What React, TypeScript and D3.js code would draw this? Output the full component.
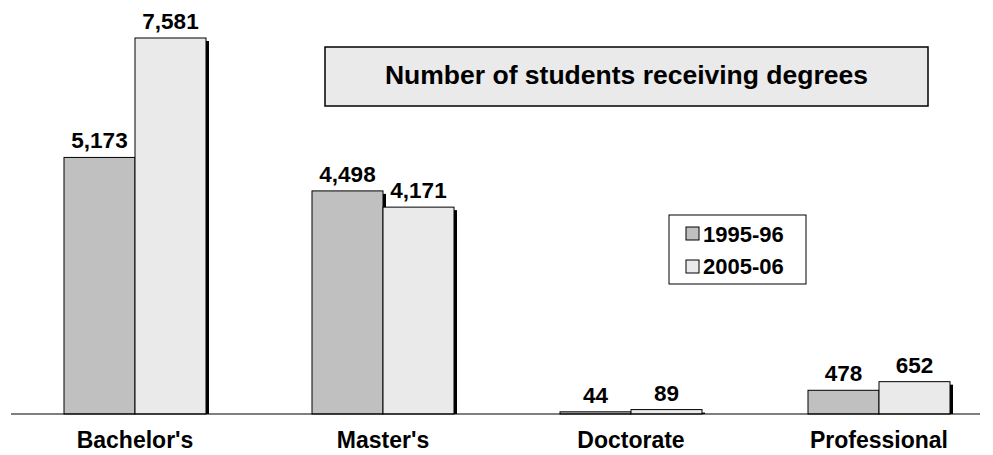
import React from "react";
import * as d3 from "d3";

const categories = ["Bachelor's", "Master's", "Doctorate", "Professional"];
const seriesNames = ["1995-96", "2005-06"];
const values1995 = [5173, 4498, 44, 478];
const values2005 = [7581, 4171, 89, 652];
const colors = ["#c0c0c0", "#eaeaea"];
const title = "Number of students receiving degrees";

const W = 993;
const H = 455;
const baseY = 414;

export default function App() {
  const x = d3.scaleBand<string>().domain(categories).range([11, 11 + 248 * 4]).paddingInner(0).paddingOuter(0);
  const inner = d3.scaleBand<string>().domain(seriesNames).range([0, 142]);
  const y = d3.scaleLinear().domain([0, 7581]).range([baseY, 38]);
  const fmt = d3.format(",");
  const series = [values1995, values2005];
  const font = "Arial, 'Liberation Sans', sans-serif";

  return (
    <svg width={W} height={H} style={{ position: "absolute", left: 0, top: 0 }} fontFamily={font}>
      <rect x={0} y={0} width={W} height={H} fill="#fff" />
      {categories.map((c, i) =>
        series.map((vals, s) => {
          const bx = (x(c) as number) + (x.bandwidth() - 142) / 2 + (inner(seriesNames[s]) as number);
          const top = y(vals[i]);
          return (
            <rect key={`sh${c}${s}`} x={bx + 3} y={top + 3} width={inner.bandwidth()} height={Math.max(0, baseY - top - 3)} fill="#000" />
          );
        })
      )}
      {categories.map((c, i) =>
        series.map((vals, s) => {
          const bx = (x(c) as number) + (x.bandwidth() - 142) / 2 + (inner(seriesNames[s]) as number);
          const top = y(vals[i]);
          return (
            <g key={`b${c}${s}`}>
              <rect x={bx} y={top} width={inner.bandwidth()} height={baseY - top} fill={colors[s]} stroke="#000" strokeWidth={1} />
              <text x={bx + inner.bandwidth() / 2} y={top - 9} textAnchor="middle" fontSize={22.5} fontWeight="bold">
                {fmt(vals[i])}
              </text>
            </g>
          );
        })
      )}
      <line x1={11} x2={980} y1={baseY} y2={baseY} stroke="#000" strokeWidth={1.2} />
      {categories.map((c) => (
        <text key={c} x={(x(c) as number) + x.bandwidth() / 2} y={448} textAnchor="middle" fontSize={23} fontWeight="bold">
          {c}
        </text>
      ))}
      <rect x={325} y={47} width={603} height={59} fill="#eaeaea" stroke="#000" strokeWidth={1.5} />
      <text x={626.5} y={84} textAnchor="middle" fontSize={26.5} fontWeight="bold">
        {title}
      </text>
      <rect x={669} y={215} width={137} height={69} fill="#fff" stroke="#000" strokeWidth={1} />
      {seriesNames.map((n, s) => (
        <g key={n}>
          <rect x={686} y={227 + s * 33} width={13} height={13} fill={colors[s]} stroke="#000" strokeWidth={1} />
          <text x={703} y={242 + s * 32} fontSize={22} fontWeight="bold">
            {n}
          </text>
        </g>
      ))}
    </svg>
  );
}
